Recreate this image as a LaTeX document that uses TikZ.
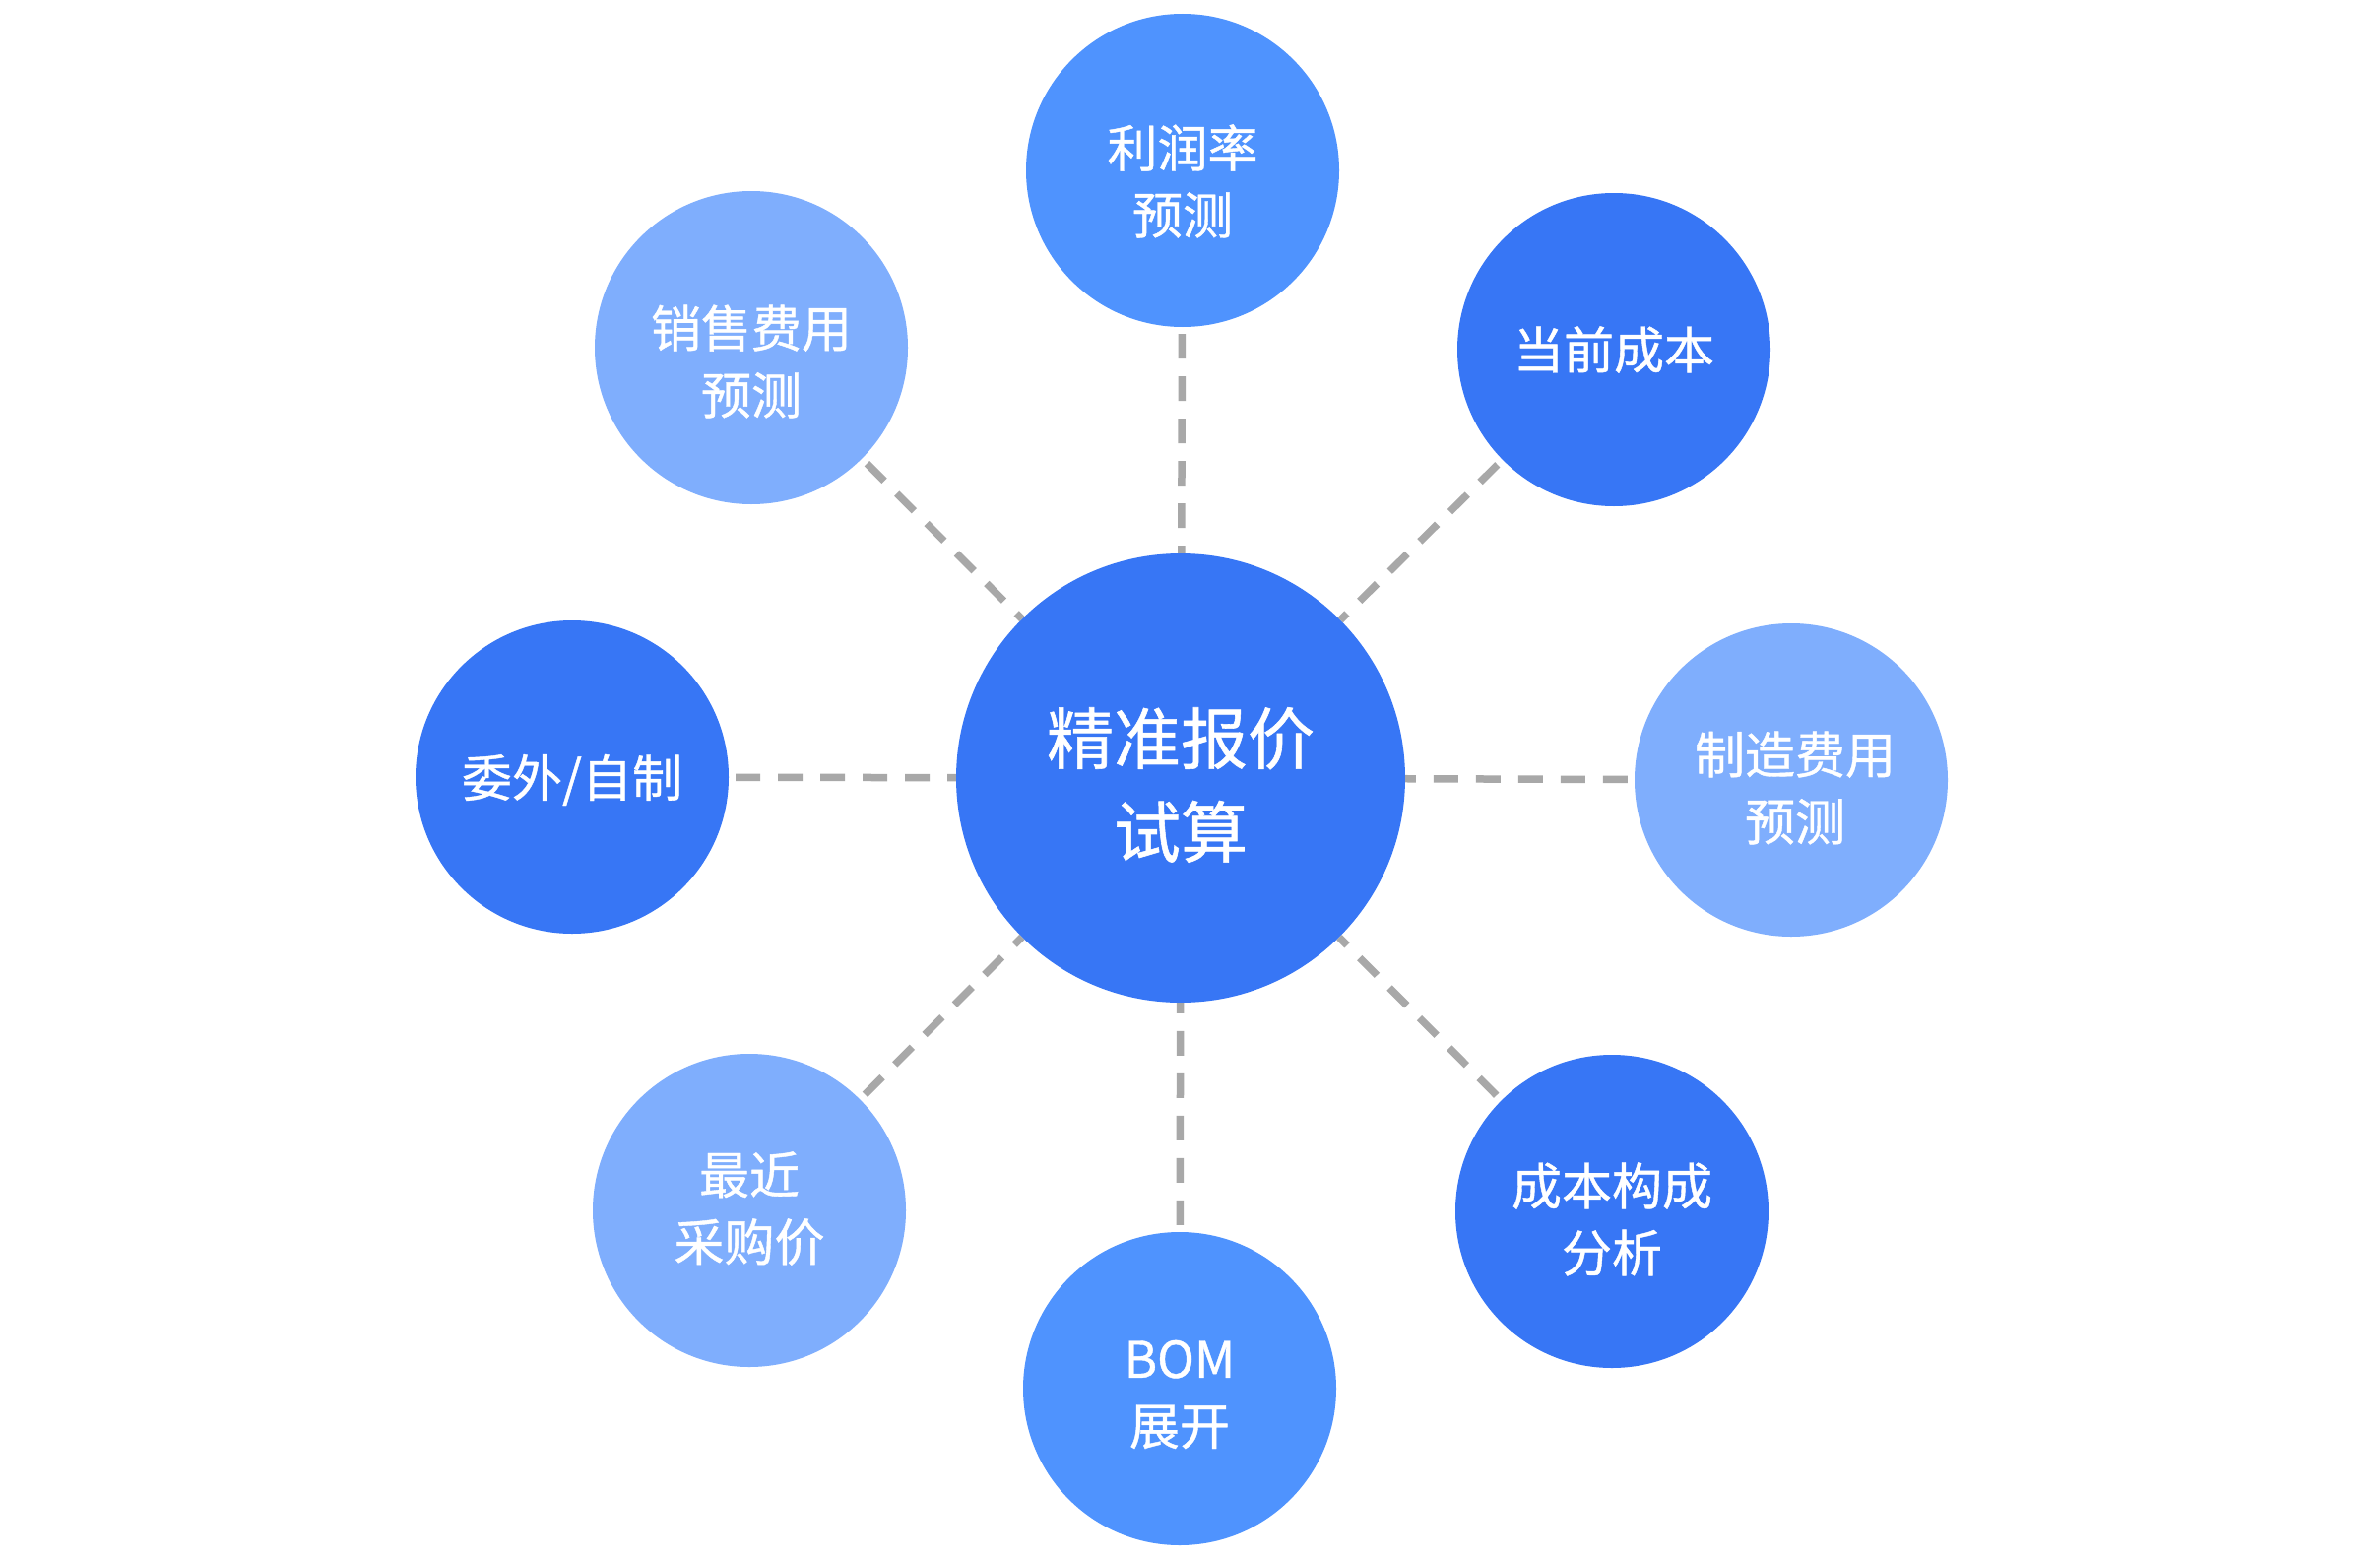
\documentclass[tikz,border=0pt]{standalone}
\usepackage{fontspec}
\newfontfamily\cjk[FakeBold=0.8]{Noto Sans CJK SC}
\definecolor{cdark}{RGB}{55,118,245}
\definecolor{cmid}{RGB}{79,147,254}
\definecolor{clight}{RGB}{127,174,253}
\definecolor{cgray}{RGB}{168,168,168}
\begin{document}
\begin{tikzpicture}[x=1pt,y=-1pt,
  hub/.style={circle,fill=cdark,minimum size=456pt,inner sep=0pt},
  sat/.style={circle,minimum size=318pt,inner sep=0pt},
  hubtxt/.style={text=white,inner sep=0pt,align=center,font=\cjk\fontsize{68}{95}\selectfont},
  sattxt/.style={text=white,inner sep=0pt,align=center,font=\cjk\fontsize{51}{68}\selectfont},
  link/.style={draw=cgray,line width=7.5pt,dash pattern=on 25pt off 18pt,shorten <=7pt}]
\fill[white] (0,0) rectangle (2417,1584);
\node[hub] (c) at (1199,790) {};
\node[sat,fill=cmid]   (n1) at (1201,173)  {};
\node[sat,fill=cdark]  (n2) at (1639,355)  {};
\node[sat,fill=clight] (n3) at (1819,792)  {};
\node[sat,fill=cdark]  (n4) at (1637,1230) {};
\node[sat,fill=cmid]   (n5) at (1198,1410) {};
\node[sat,fill=clight] (n6) at (761,1229)  {};
\node[sat,fill=cdark]  (n7) at (581,789)   {};
\node[sat,fill=clight] (n8) at (763,353)   {};
\node[hubtxt] (tc) at ([yshift=-7pt]c) {精准报价\\试算};
\node[sattxt] (t1) at ([yshift=-11pt]n1) {利润率\\预测};
\node[sattxt] (t2) at (n2) {当前成本};
\node[sattxt] (t3) at ([xshift=4pt,yshift=-8pt]n3) {制造费用\\预测};
\node[sattxt] (t4) at ([yshift=-8pt]n4) {成本构成\\分析};
\node[sattxt] (t5) at ([yshift=-6pt]n5) {BOM\\展开};
\node[sattxt] (t6) at ([yshift=2pt]n6) {最近\\采购价};
\node[sattxt] (t7) at ([yshift=-3pt]n7) {委外/自制};
\node[sattxt] (t8) at ([yshift=-14pt]n8) {销售费用\\预测};
\foreach \n in {n1,n2,n3,n4,n5,n6,n7,n8}
  \draw[link] (\n) -- (c);
\end{tikzpicture}
\end{document}
